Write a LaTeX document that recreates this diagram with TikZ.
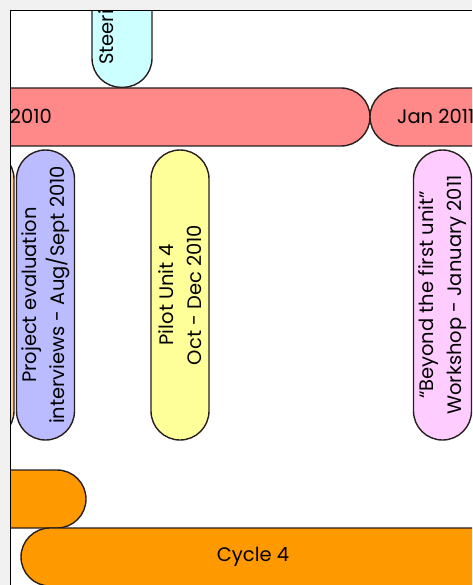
\documentclass[tikz,border=0pt]{standalone}
\usepackage{fontspec}
\setmainfont{Poppins}
\definecolor{pageback}{RGB}{241,241,241}
\definecolor{edge}{RGB}{40,30,30}
\definecolor{yearred}{RGB}{255,136,136}
\definecolor{steercyan}{RGB}{204,255,255}
\definecolor{evalblue}{RGB}{187,187,255}
\definecolor{pilotyellow}{RGB}{255,255,153}
\definecolor{workpink}{RGB}{255,204,255}
\definecolor{peach}{RGB}{255,210,165}
\definecolor{cycleorange}{RGB}{255,153,0}
\tikzset{
  pill/.style={draw=edge, line width=1.4pt, rounded corners=29pt,
    minimum height=58pt, inner sep=0pt, align=center,
    font=\fontsize{19.5}{28}\selectfont},
  vpill/.style={pill, rotate=90, minimum width=290pt},
  barlabel/.style={font=\fontsize{19.5}{28}\selectfont, inner sep=0pt}
}
\begin{document}
\begin{tikzpicture}[x=1pt, y=-1pt]
  \useasboundingbox (0,0) rectangle (472,585);
  \fill[pageback] (0,0) rectangle (472,585);
  \fill[white] (10.5,10.5) rectangle (472,585);
  \begin{scope}
    \clip (10.5,10.5) rectangle (472,585);
    % year bars
    \node[pill, fill=yearred, minimum width=670pt] (year2010) at (35,117) {};
    \node[barlabel, anchor=base east] (label2010) at (52,124) {Jan 2010};
    \node[pill, fill=yearred, minimum width=330pt] (year2011) at (535,117) {};
    \node[barlabel, anchor=base west] (label2011) at (397,124) {Jan 2011};
    % steering group meeting
    \node[pill, fill=steercyan, rotate=90, minimum width=188pt, minimum height=60pt,
      anchor=west] (steer) at (122,88) {};
    \node[barlabel, rotate=90, anchor=base west] (steerlabel) at (113,65) {Steering};
    % activities
    \node[vpill, fill=peach] (prev) at (-15,295) {};
    \node[vpill, fill=evalblue] (eval) at (45.5,295)
      {Project evaluation\\interviews - Aug/Sept 2010};
    \node[vpill, fill=pilotyellow] (pilot) at (180,295)
      {Pilot Unit 4\\Oct - Dec 2010};
    \node[vpill, fill=workpink] (workshop) at (442.5,295)
      {``Beyond the first unit''\\Workshop - January 2011};
    % cycles
    \node[pill, fill=cycleorange, minimum width=390pt] (cycle3) at (-109,499) {};
    \node[pill, fill=cycleorange, minimum width=780pt] (cycle4) at (411,557) {};
    \node[barlabel] (cycle4label) at (253,557) {Cycle 4};
  \end{scope}
  \draw[black, line width=1.2pt] (10.5,585) -- (10.5,10.5) -- (472,10.5);
\end{tikzpicture}
\end{document}
